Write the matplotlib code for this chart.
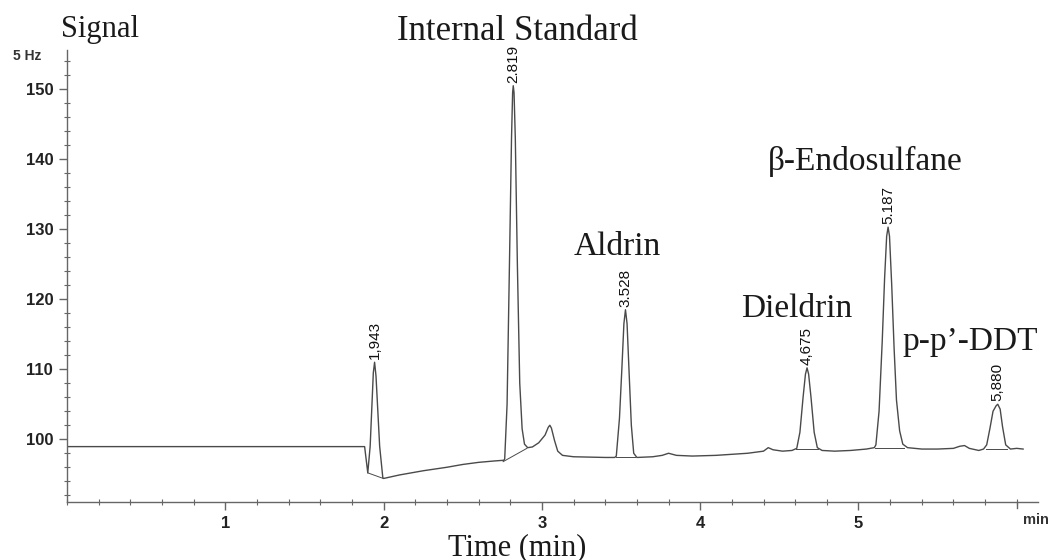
import matplotlib
matplotlib.use('Agg')
import matplotlib.pyplot as plt
from matplotlib.ticker import MultipleLocator, FixedLocator

# ============================================================
# 数据：色谱曲线点 (时间 min, 信号 Hz)
# ============================================================
trace_time = [
    0.00, 1.880, 1.900, 1.915, 1.935, 1.943, 1.952, 1.975, 1.995, 2.000,
    2.10, 2.25, 2.40, 2.50, 2.60, 2.70, 2.760,
    2.765, 2.780, 2.795, 2.808, 2.815, 2.819, 2.824, 2.832, 2.845, 2.860,
    2.875, 2.890, 2.910, 2.940, 2.980, 3.020, 3.040, 3.050, 3.060, 3.080,
    3.100, 3.130, 3.20, 3.30, 3.40, 3.460,
    3.470, 3.490, 3.505, 3.518, 3.528, 3.538, 3.550, 3.565, 3.580, 3.600,
    3.70, 3.76, 3.80, 3.85, 3.95, 4.10, 4.30, 4.40, 4.43, 4.46, 4.52, 4.58,
    4.610, 4.630, 4.650, 4.665, 4.675, 4.685, 4.700, 4.720, 4.740, 4.770,
    4.85, 4.95, 5.05, 5.10,
    5.110, 5.130, 5.150, 5.165, 5.178, 5.187, 5.196, 5.210, 5.225, 5.240,
    5.260, 5.280, 5.310, 5.40, 5.50, 5.60, 5.64, 5.67, 5.70, 5.76, 5.79,
    5.810, 5.830, 5.850, 5.870, 5.880, 5.895, 5.910, 5.930, 5.960, 6.00, 6.04,
]
trace_signal = [
    98.95, 98.95, 95.2, 99.0, 109.5, 111.0, 109.0, 99.0, 94.5, 94.4,
    94.9, 95.5, 96.0, 96.4, 96.7, 96.9, 97.0,
    97.2, 105.0, 125.0, 143.0, 149.5, 150.5, 149.5, 143.0, 125.0, 108.0,
    101.5, 99.3, 98.8, 98.9, 99.5, 100.6, 101.7, 102.0, 101.6, 99.8,
    98.3, 97.7, 97.5, 97.45, 97.4, 97.4,
    97.6, 103.0, 110.0, 116.5, 118.5, 116.5, 110.0, 102.0, 98.0, 97.4,
    97.5, 97.7, 98.0, 97.7, 97.6, 97.7, 98.0, 98.3, 98.8, 98.5, 98.3, 98.4,
    98.7, 101.0, 106.0, 109.3, 110.2, 109.3, 106.0, 101.0, 98.8, 98.4,
    98.3, 98.4, 98.6, 98.8,
    99.2, 104.0, 114.0, 123.0, 129.0, 130.3, 129.0, 122.0, 113.0, 105.6,
    101.2, 99.3, 98.8, 98.6, 98.6, 98.7, 99.0, 99.1, 98.7, 98.4, 98.6,
    99.2, 101.5, 104.0, 104.8, 105.0, 104.3, 101.8, 99.2, 98.6, 98.7, 98.6,
]

# 积分基线（峰起点 -> 峰终点）
base_start = [(1.900, 95.2), (2.755, 96.8), (3.465, 97.45), (4.605, 98.6), (5.105, 98.8), (5.805, 98.6)]
base_end = [(1.998, 94.4), (2.905, 98.7), (3.590, 97.45), (4.745, 98.6), (5.290, 98.8), (5.940, 98.6)]

# 峰保留时间标注
peak_rt = [1.943, 2.819, 3.528, 4.675, 5.187, 5.880]
peak_height = [111.0, 150.5, 118.5, 110.2, 130.3, 105.0]
peak_labels = ['1,943', '2.819', '3.528', '4,675', '5.187', '5,880']

# 化合物名称（文字基线位置）
compound_names = ['Internal Standard', 'Aldrin', '\u03b2-Endosulfane', 'Dieldrin', 'p-p\u2019-DDT']
compound_x = [2.843, 3.474, 5.041, 4.612, 5.705]
compound_y = [157.0, 126.3, 138.5, 117.5, 112.8]

x_ticks = [1, 2, 3, 4, 5]
y_ticks = [100, 110, 120, 130, 140, 150]

AX_COL = '#666666'
LINE_COL = '#4a4a4a'
TXT_COL = '#1a1a1a'

fig = plt.figure(figsize=(10.49, 5.6), dpi=100)
ax = fig.add_axes([0.0639, 0.1036, 0.9256, 0.8071])

# 曲线
ax.plot(trace_time, trace_signal, color=LINE_COL, linewidth=1.0)
for (x0, y0), (x1, y1) in zip(base_start, base_end):
    ax.plot([x0, x1], [y0, y1], color=LINE_COL, linewidth=0.7)

# 保留时间（竖排）
for rt, h, lab in zip(peak_rt, peak_height, peak_labels):
    ax.annotate(lab, xy=(rt, h), xytext=(0, 2), textcoords='offset points',
                rotation=90, ha='center', va='bottom', fontsize=11,
                family='Liberation Sans', color='#111111')

# 化合物名称
for name, x, y in zip(compound_names, compound_x, compound_y):
    size = 25 if name == 'Internal Standard' else 24
    ax.text(x, y, name, ha='center', va='baseline', fontsize=size,
            family='Liberation Serif', color=TXT_COL, clip_on=False)

ax.set_xlim(0, 6.134)
ax.set_ylim(91.04, 155.6)

for s in ['top', 'right']:
    ax.spines[s].set_visible(False)
for s in ['left', 'bottom']:
    ax.spines[s].set_color(AX_COL)
    ax.spines[s].set_linewidth(1.0)

ax.xaxis.set_major_locator(FixedLocator(x_ticks))
ax.xaxis.set_minor_locator(MultipleLocator(0.2))
ax.yaxis.set_major_locator(FixedLocator(y_ticks))
ax.yaxis.set_minor_locator(MultipleLocator(2))
ax.tick_params(which='major', direction='out', length=6, width=1.0, color=AX_COL,
               labelsize=12, pad=4, labelcolor='#222222')
ax.tick_params(which='minor', direction='inout', length=5, width=0.8, color=AX_COL)
for lab in ax.get_xticklabels() + ax.get_yticklabels():
    lab.set_fontweight('bold')
    lab.set_family('Liberation Sans')

# 6 min 处的刻度与 "min"
ax.plot([6.0, 6.0], [91.04, 90.2], color=AX_COL, linewidth=1.0, clip_on=False)
ax.text(6.12, 89.4, 'min', ha='center', va='top',
        fontsize=10.5, fontweight='bold', family='Liberation Sans', color='#333333',
        clip_on=False)

fig.text(0.0124, 0.9, '5 Hz', ha='left', va='center', fontsize=10, fontweight='bold',
         family='Liberation Sans', color='#333333')
fig.text(0.0953, 1 - 37 / 560, 'Signal', ha='center', va='baseline', fontsize=22,
         family='Liberation Serif', color=TXT_COL)
fig.text(0.493, 1 - 555 / 560, 'Time (min)', ha='center', va='baseline', fontsize=22,
         family='Liberation Serif', color=TXT_COL)

fig.savefig('out.png', dpi=100)
